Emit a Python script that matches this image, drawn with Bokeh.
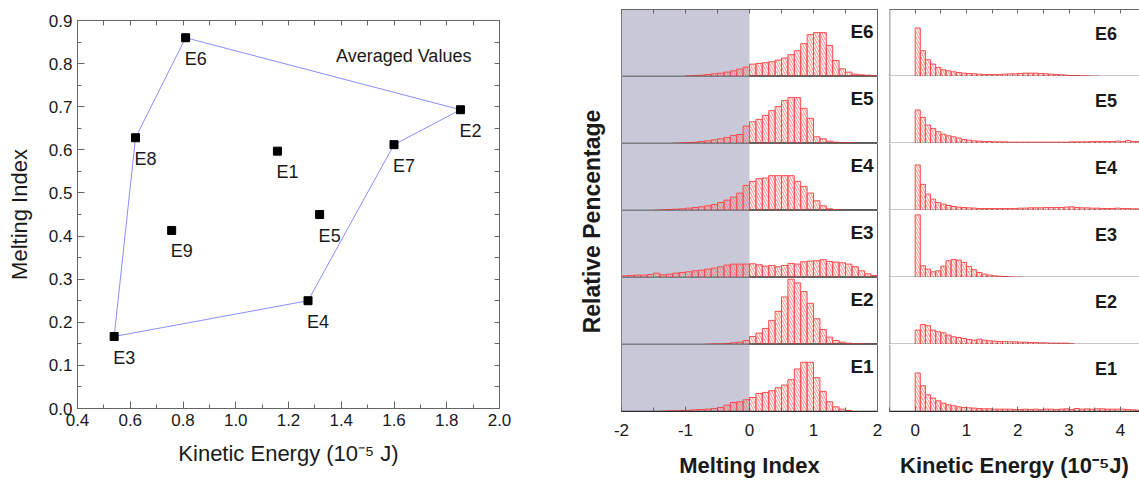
import numpy as np
from bokeh.plotting import figure
from bokeh.models import (Range1d, Span, BoxAnnotation, Label, LinearAxis,
                          SingleIntervalTicker, FixedTicker, NumeralTickFormatter)
from bokeh.layouts import row, column
from bokeh.embed import file_html
from bokeh.resources import INLINE
from bokeh.core.properties import value

FONT = "Liberation Sans"

# ---------------- data ----------------
exp_names = ["E1", "E2", "E3", "E4", "E5", "E6", "E7", "E8", "E9"]
ke_avg = [1.158, 1.852, 0.539, 1.274, 1.318, 0.810, 1.600, 0.620, 0.757]
mi_avg = [0.597, 0.693, 0.167, 0.250, 0.450, 0.860, 0.612, 0.628, 0.413]
hull_order = ["E6", "E2", "E7", "E4", "E3", "E8", "E6"]

hist_rows = ["E6", "E5", "E4", "E3", "E2", "E1"]

# melting index histograms, bins of 0.1 from -2.0 to 2.0 (relative %)
mi_bin_start, mi_bin_width = -2.0, 0.1
mi_E6 = [0, 0, 0, 0, 0, 0, 0, 0, 0, 0,
         0.1, 0.15, 0.2, 0.3, 0.4, 0.5, 0.65, 0.85, 1.1, 1.4,
         1.85, 1.95, 2.05, 2.2, 2.45, 2.75, 3.25, 3.85, 4.9, 6.25,
         6.55, 6.55, 4.65, 2.4, 1.15, 0.65, 0.35, 0.25, 0.2, 0.15]
mi_E5 = [0, 0, 0, 0, 0, 0, 0, 0,
         0.05, 0.1, 0.15, 0.2, 0.3, 0.4, 0.55, 0.7, 0.9, 1.2, 1.35, 2.6,
         3.25, 3.6, 4.2, 4.9, 5.5, 6.4, 6.85, 6.85, 5.25, 3.75,
         1.0, 0.7, 0.35, 0.2, 0.1, 0.1, 0.05, 0, 0, 0]
mi_E4 = [0, 0, 0, 0, 0,
         0.05, 0.1, 0.15, 0.2, 0.25, 0.35, 0.45, 0.55, 0.7, 0.9, 1.2, 1.55, 2.0, 2.6, 3.75,
         4.35, 4.75, 4.85, 5.2, 5.2, 5.2, 5.2, 4.35, 3.6, 2.6,
         1.45, 0.7, 0.25, 0.1, 0.05, 0, 0, 0, 0, 0]
mi_E3 = [0.25, 0.3, 0.35, 0.35, 0.45, 0.65, 0.4, 0.5, 0.65, 0.75,
         0.85, 1.0, 1.1, 1.25, 1.4, 1.6, 1.85, 2.0, 2.0, 2.0,
         2.05, 1.9, 1.7, 1.8, 1.6, 1.8, 2.1, 2.0, 2.35, 2.45,
         2.5, 2.65, 2.4, 2.3, 2.2, 2.0, 1.6, 1.0, 0.55, 0.3]
mi_E2 = [0, 0, 0, 0, 0, 0, 0, 0, 0, 0, 0, 0, 0,
         0.05, 0.1, 0.1, 0.15, 0.25, 0.35, 0.6,
         1.2, 1.7, 2.4, 3.6, 4.95, 7.1, 9.75, 9.2, 7.9, 6.15,
         3.85, 2.25, 1.1, 0.6, 0.35, 0.2, 0.1, 0.1, 0.05, 0]
mi_E1 = [0, 0, 0, 0, 0, 0,
         0.05, 0.1, 0.1, 0.15, 0.2, 0.25, 0.3, 0.35, 0.45, 0.6, 0.95, 1.35, 1.45, 1.75,
         2.1, 2.7, 2.85, 3.1, 3.55, 3.95, 4.75, 6.35, 7.35, 7.35,
         5.05, 3.0, 1.45, 0.7, 0.35, 0.15, 0, 0, 0, 0]

# kinetic energy histograms, bins of 0.1 from 0.0 (relative %)
ke_bin_start, ke_bin_width = 0.0, 0.1
ke_E6 = [7.25, 3.85, 2.5, 1.85, 1.35, 1.0, 0.85, 0.7, 0.6, 0.5,
         0.45, 0.4, 0.35, 0.3, 0.3, 0.3, 0.3, 0.35, 0.4, 0.4,
         0.45, 0.5, 0.5, 0.5, 0.45, 0.4, 0.35, 0.3, 0.25, 0.2,
         0.15, 0.15, 0.1, 0.1, 0.05, 0.05, 0, 0, 0, 0, 0, 0, 0, 0]
ke_E5 = [5.0, 3.9, 2.75, 2.25, 1.75, 1.4, 1.15, 1.0, 0.8, 0.6,
         0.5, 0.4, 0.35, 0.3, 0.3, 0.25, 0.25, 0.25, 0.2, 0.2,
         0.2, 0.2, 0.2, 0.2, 0.2, 0.2, 0.2, 0.2, 0.2, 0.2,
         0.25, 0.25, 0.25, 0.25, 0.3, 0.3, 0.3, 0.3, 0.3, 0.35, 0.3, 0.45, 0.3, 0.3]
ke_E4 = [6.8, 3.9, 2.45, 1.7, 1.2, 0.95, 0.75, 0.6, 0.5, 0.45,
         0.4, 0.35, 0.3, 0.3, 0.3, 0.3, 0.3, 0.3, 0.3, 0.3,
         0.35, 0.35, 0.4, 0.4, 0.4, 0.45, 0.45, 0.45, 0.45, 0.5,
         0.55, 0.45, 0.4, 0.4, 0.35, 0.35, 0.3, 0.3, 0.3, 0.35, 0.3, 0.3, 0.25, 0.25]
ke_E3 = [9.35, 1.75, 1.25, 0.85, 1.0, 1.7, 2.5, 2.7, 2.6, 2.25,
         1.65, 1.15, 0.75, 0.5, 0.35, 0.25, 0.2, 0.15, 0.1, 0.05,
         0.05, 0, 0, 0, 0, 0, 0, 0, 0, 0,
         0, 0, 0, 0, 0, 0, 0, 0, 0, 0, 0, 0, 0, 0]
ke_E2 = [2.15, 3.0, 2.8, 2.15, 1.9, 1.75, 1.4, 1.15, 1.05, 0.9,
         0.75, 0.65, 0.8, 0.65, 0.55, 0.5, 0.45, 0.45, 0.4, 0.4,
         0.35, 0.35, 0.3, 0.3, 0.25, 0.25, 0.2, 0.2, 0.2, 0.2,
         0.1, 0, 0, 0, 0, 0, 0, 0, 0, 0, 0, 0, 0, 0]
ke_E1 = [5.75, 3.85, 2.5, 2.0, 1.6, 1.25, 1.0, 0.85, 0.7, 0.6,
         0.55, 0.5, 0.45, 0.4, 0.4, 0.35, 0.35, 0.35, 0.35, 0.3,
         0.3, 0.35, 0.3, 0.35, 0.3, 0.35, 0.35, 0.3, 0.35, 0.4,
         0.3, 0.45, 0.35, 0.4, 0.35, 0.4, 0.4, 0.35, 0.35, 0.35, 0.35, 0.3, 0.25, 0.2]

mi_hist = {"E6": mi_E6, "E5": mi_E5, "E4": mi_E4, "E3": mi_E3, "E2": mi_E2, "E1": mi_E1}
ke_hist = {"E6": ke_E6, "E5": ke_E5, "E4": ke_E4, "E3": ke_E3, "E2": ke_E2, "E1": ke_E1}

# tick positions for the mirrored (label-free) axes
scatter_top_ticks = list(np.round(np.arange(0.4, 2.0001, 0.1), 2))
scatter_right_ticks = list(np.round(np.arange(0.0, 0.9001, 0.05), 3))
mi_top_ticks = [-2, -1.5, -1, -0.5, 0, 0.5, 1, 1.5, 2]
ke_top_ticks = [0, 0.5, 1, 1.5, 2, 2.5, 3, 3.5, 4]

# ---------------- styles ----------------
FRAME_GRAY = "#666666"
SEP = "#2a2a2a"
BAR_LINE = "#ff4d4d"
HATCH = "#ff6a6a"
SHADE = "#c8c8d8"
TXT = "#1a1a1a"


def style_axis(ax):
    ax.axis_line_color = FRAME_GRAY
    ax.major_tick_line_color = FRAME_GRAY
    ax.minor_tick_line_color = FRAME_GRAY
    ax.major_tick_out = 0
    ax.minor_tick_out = 0
    ax.major_label_text_font = FONT
    ax.major_label_text_color = TXT


def mirror_axis(ticks, length):
    ax = LinearAxis(ticker=FixedTicker(ticks=[], minor_ticks=ticks))
    style_axis(ax)
    ax.minor_tick_in = length
    ax.major_label_standoff = 0
    return ax


# ---------------- left scatter ----------------
p = figure(frame_width=422, frame_height=388,
           x_range=Range1d(0.4, 2.0), y_range=Range1d(0.0, 0.9),
           output_backend="svg", toolbar_location=None,
           min_border_left=77, min_border_top=20, min_border_right=78, min_border_bottom=70,
           x_axis_location=None, y_axis_location=None)
p.grid.visible = False
p.outline_line_color = FRAME_GRAY
p.background_fill_color = "white"
p.border_fill_color = "white"

ax = LinearAxis(ticker=SingleIntervalTicker(interval=0.2, num_minor_ticks=2),
                formatter=NumeralTickFormatter(format="0.0"))
style_axis(ax)
ax.major_tick_in = 7
ax.minor_tick_in = 4
ax.major_label_text_font_size = "17px"
ax.major_label_standoff = 5
ax.axis_label = "Kinetic Energy (10\u207b\u2075 J)"
ax.axis_label_text_font = FONT
ax.axis_label_text_font_style = "normal"
ax.axis_label_text_font_size = "22px"
ax.axis_label_text_color = TXT
ax.axis_label_standoff = 12
p.add_layout(ax, "below")

ay = LinearAxis(ticker=SingleIntervalTicker(interval=0.1, num_minor_ticks=2),
                formatter=NumeralTickFormatter(format="0.0"))
style_axis(ay)
ay.major_tick_in = 7
ay.minor_tick_in = 4
ay.major_label_text_font_size = "17px"
ay.major_label_standoff = 5
ay.axis_label = "Melting Index"
ay.axis_label_text_font = FONT
ay.axis_label_text_font_style = "normal"
ay.axis_label_text_font_size = "22px"
ay.axis_label_text_color = TXT
ay.axis_label_standoff = 14
p.add_layout(ay, "left")

p.add_layout(mirror_axis(scatter_top_ticks, 5), "above")
p.add_layout(mirror_axis(scatter_right_ticks, 5), "right")

hx = [ke_avg[exp_names.index(n)] for n in hull_order]
hy = [mi_avg[exp_names.index(n)] for n in hull_order]
p.line(hx, hy, line_color="#8c8cff", line_width=1)
p.scatter(ke_avg, mi_avg, marker="square", size=8, fill_color="black", line_color="black")
p.text(ke_avg, mi_avg, text=exp_names, x_offset=-1, y_offset=11,
       text_align="left", text_baseline="top", text_font=value(FONT),
       text_font_size="18px", text_color=TXT)
p.add_layout(Label(x=1.38, y=0.818, text="Averaged Values", text_font=FONT,
                   text_font_size="18px", text_baseline="middle", text_color=TXT))

# ---------------- y label for histogram panels ----------------
lab = figure(frame_width=34, frame_height=402, x_range=Range1d(0, 1), y_range=Range1d(0, 1),
             output_backend="svg", toolbar_location=None,
             min_border_left=0, min_border_right=0, min_border_top=9, min_border_bottom=66,
             x_axis_location=None, y_axis_location=None)
lab.outline_line_color = None
lab.grid.visible = False
lab.text([0.44], [0.5], text=["Relative Pencentage"], angle=np.pi / 2,
         text_align="center", text_baseline="middle", text_font=value(FONT),
         text_font_style="bold", text_font_size="23px", text_color=TXT)


# ---------------- histogram panels ----------------
def hist_fig(name, vals, start, width, xr, frame_w, mbl, mbr, first, last, top_ticks,
             xlabel, label_x, label_y, label_align, label_size, shade, outline):
    f = figure(frame_width=frame_w, frame_height=67, x_range=xr, y_range=Range1d(0, 10),
               output_backend="svg", toolbar_location=None,
               min_border_left=mbl, min_border_right=mbr,
               min_border_top=9 if first else 0, min_border_bottom=66 if last else 0,
               x_axis_location=None, y_axis_location=None)
    f.grid.visible = False
    f.background_fill_color = "white"
    f.border_fill_color = "white"
    f.outline_line_color = FRAME_GRAY if outline else None
    if shade:
        f.add_layout(BoxAnnotation(left=xr.start, right=0, fill_color=SHADE, fill_alpha=1.0,
                                   line_color=None, level="underlay"))
    v = np.array(vals, dtype=float)
    left = start + width * np.arange(len(v))
    m = v > 0
    f.quad(left=left[m], right=left[m] + width, bottom=0, top=v[m],
           fill_color=None, line_color=BAR_LINE, line_width=1,
           hatch_pattern="\\", hatch_color=HATCH, hatch_scale=5, hatch_weight=0.8)
    if not outline:
        f.add_layout(Span(location=xr.start, dimension="height", line_color=FRAME_GRAY, line_width=1.5))
    f.add_layout(Span(location=0, dimension="width", line_color=SEP, line_width=1.5))
    if first:
        f.add_layout(mirror_axis(top_ticks, 4), "above")
    if last:
        ax = LinearAxis(ticker=SingleIntervalTicker(interval=1, num_minor_ticks=2),
                        formatter=NumeralTickFormatter(format="0"))
        style_axis(ax)
        ax.axis_line_color = SEP
        ax.major_tick_in = 5
        ax.minor_tick_in = 4
        ax.major_label_text_font_size = "17px"
        ax.major_label_standoff = 12
        ax.axis_label = xlabel
        ax.axis_label_text_font = FONT
        ax.axis_label_text_font_style = "bold"
        ax.axis_label_text_font_size = "22px"
        ax.axis_label_text_color = TXT
        ax.axis_label_standoff = 14
        f.add_layout(ax, "below")
    f.text([label_x], [label_y], text=[name], text_align=label_align, text_baseline="middle",
           text_font=value(FONT), text_font_style="bold", text_font_size=label_size,
           text_color=TXT)
    return f


mid_figs = []
ke_figs = []
n = len(hist_rows)
for i, name in enumerate(hist_rows):
    first, last = i == 0, i == n - 1
    mid_figs.append(hist_fig(name, mi_hist[name], mi_bin_start, mi_bin_width, Range1d(-2, 2),
                             256, 10, 6, first, last, mi_top_ticks, "Melting Index",
                             1.94, 6.7, "right", "19px", True, True))
    ke_figs.append(hist_fig(name, ke_hist[name], ke_bin_start, ke_bin_width, Range1d(-0.5, 4.372),
                            250, 6, 0, first, last, ke_top_ticks, "Kinetic Energy (10\u207b\u2075J)",
                            3.72, 6.4, "center", "18px", False, False))

layout = row(p, lab, column(*mid_figs), column(*ke_figs))

open("out.html", "w").write(file_html(layout, INLINE))
